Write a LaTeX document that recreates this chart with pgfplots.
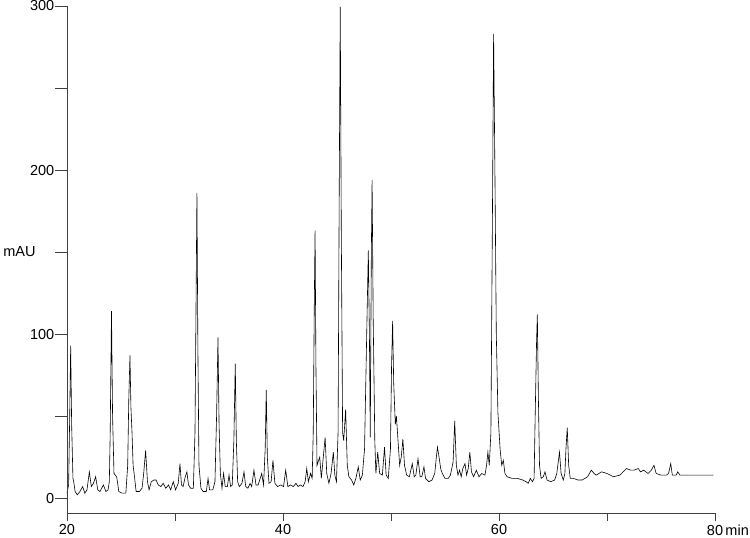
\documentclass[border=0pt]{standalone}
\usepackage{pgfplots}
\usepackage{pgfplotstable}
\pgfplotsset{compat=1.18}
\usepackage{fontspec}
\setmainfont{Liberation Sans}

% chromatogram trace, time in min, signal in mAU
\pgfplotstableread{
t y
20.00 3
20.15 8
20.25 50
20.34 93
20.43 45
20.55 12
20.62 10
20.75 4
20.95 2
21.20 4
21.45 7
21.65 3
21.85 5
22.07 16
22.25 7
22.45 9
22.65 13
22.85 5
23.05 4
23.37 8
23.60 4
23.80 5
23.92 10
24.00 40
24.12 114
24.22 50
24.35 15
24.60 13
24.80 4
25.10 3
25.45 3
25.62 20
25.72 60
25.83 87
25.92 55
26.02 40
26.12 20
26.25 13
26.40 4
26.70 4
26.95 6
27.10 15
27.28 29
27.45 10
27.60 5
27.80 10
28.05 11
28.25 11
28.45 8
28.70 7
28.90 9
29.15 6
29.40 8
29.60 5
29.84 10
30.05 5
30.30 9
30.46 21
30.60 8
30.75 7
30.95 13
31.10 16
31.25 8
31.45 6
31.70 6
31.85 40
31.95 120
32.03 186
32.12 90
32.22 20
32.40 6
32.60 4
32.90 4
33.06 12
33.20 5
33.50 5
33.70 10
33.85 50
33.98 98
34.08 45
34.20 15
34.35 6
34.50 15
34.65 7
34.85 7
35.00 14
35.15 7
35.30 8
35.45 35
35.58 82
35.68 35
35.80 10
35.95 7
36.20 9
36.39 16
36.55 7
36.75 6
36.95 9
37.10 7
37.31 17
37.50 8
37.70 8
38.03 15
38.20 8
38.35 30
38.45 66
38.55 25
38.70 9
38.90 10
39.07 23
39.25 9
39.50 7
39.80 8
40.05 7
40.25 17
40.45 7
40.70 8
40.95 7
41.20 9
41.40 7
41.60 8
41.85 7
42.05 10
42.20 18
42.35 10
42.55 15
42.70 12
42.80 40
42.90 120
42.97 163
43.05 80
43.15 20
43.40 25
43.55 12
43.90 37
44.05 15
44.25 9
44.45 15
44.66 28
44.80 14
44.95 10
45.10 40
45.20 180
45.30 299.5
45.40 160
45.52 40
45.62 35
45.80 54
45.95 20
46.10 13
46.35 11
46.55 8
46.75 12
46.97 19
47.15 11
47.35 14
47.55 30
47.75 100
47.90 151
48.00 100
48.08 37
48.18 150
48.25 194
48.35 110
48.50 35
48.60 15
48.77 28
48.95 15
49.20 14
49.40 31
49.55 14
49.75 12
49.95 30
50.05 80
50.15 108
50.25 70
50.40 45
50.50 50
50.65 35
50.80 20
50.95 25
51.10 36
51.25 20
51.45 14
51.70 13
51.97 21
52.15 13
52.30 14
52.50 24
52.70 13
52.85 13
53.05 19
53.20 12
53.50 10
53.80 11
54.05 15
54.20 25
54.30 31
54.45 25
54.60 18
54.75 15
55.00 12
55.30 12
55.50 14
55.75 22
55.90 47
56.05 20
56.20 14
56.35 17
56.50 13
56.65 18
56.85 21
57.00 14
57.15 18
57.30 28
57.45 16
57.65 13
57.90 17
58.15 13
58.40 15
58.70 14
58.85 20
58.97 28
59.10 20
59.25 40
59.40 180
59.50 283
59.62 200
59.75 100
59.90 52
60.10 30
60.25 20
60.40 23
60.55 15
60.75 13
61.20 12
61.70 12
62.20 11
62.50 10
62.70 9
62.90 12
63.10 10
63.25 12
63.35 50
63.48 96
63.55 112
63.65 60
63.75 20
63.90 12
64.10 13
64.26 16
64.45 11
64.80 10
65.15 11
65.35 15
65.60 28
65.75 15
65.95 11
66.10 15
66.20 30
66.32 43
66.45 20
66.60 12
66.90 12
67.30 11
67.70 11
68.20 13
68.55 17
68.80 15
69.00 14
69.50 16
70.00 15
70.60 13
71.20 14
71.80 18
72.20 17
72.50 17
72.90 18
73.10 16
73.40 17
73.80 15
74.10 17
74.35 20
74.55 15
75.00 14
75.50 14
75.70 15
75.90 21
76.05 14
76.40 14
76.55 16
76.75 14
77.50 14
78.50 14
79.85 14
}\trace

\begin{document}
\fontsize{14.5pt}{17pt}\selectfont
\begin{tikzpicture}
\begin{axis}[
  scale only axis,
  width=648pt, height=507pt,
  xmin=20, xmax=80, ymin=-9.1, ymax=300,
  axis x line*=bottom, axis y line*=left,
  axis line style={black!75, line width=0.8pt},
  tick align=outside,
  major tick length=12pt,
  tick style={black!75, line width=0.8pt},
  xtick style={/pgfplots/major tick length=8pt},
  xtick={20,30,40,50,60,70,80},
  xticklabels={20,,40,,60,,\phantom{\,min}80\,min},
  ytick={0,50,100,150,200,250,300},
  yticklabels={0,,100,\makebox[51pt][l]{mAU},200,,300},
  yticklabel style={inner sep=0.5pt},
  xticklabel style={inner sep=0pt, anchor=north, yshift=0.5pt},
  ticklabel style={font=\fontsize{14.5pt}{17pt}\selectfont},
  clip=false,
]
\addplot[black, line width=0.6pt, mark=none] table[x=t, y=y] {\trace};
\end{axis}
\draw[black!75, line width=0.8pt] (current axis.north west) -- (current axis.south west) -- (current axis.south east);
\pgfresetboundingbox
\path ([xshift=-67pt,yshift=-24pt]current axis.south west) rectangle ([xshift=35pt,yshift=6pt]current axis.north east);
\end{tikzpicture}
\end{document}
